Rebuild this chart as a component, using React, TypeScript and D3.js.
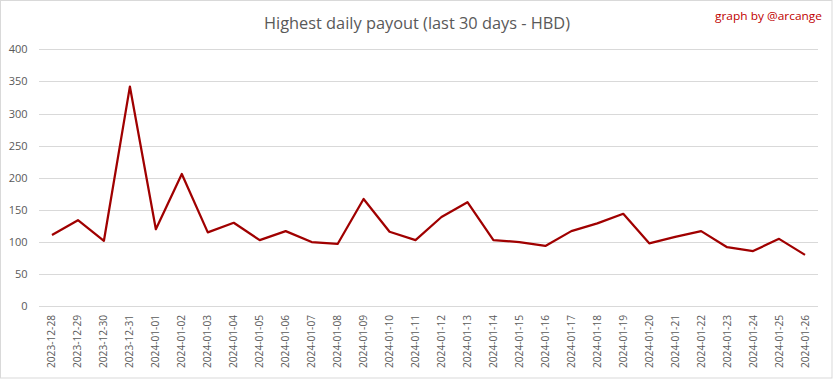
import React from "react";
import * as d3 from "d3";

const dates = [
  "2023-12-28","2023-12-29","2023-12-30","2023-12-31","2024-01-01","2024-01-02","2024-01-03",
  "2024-01-04","2024-01-05","2024-01-06","2024-01-07","2024-01-08","2024-01-09","2024-01-10",
  "2024-01-11","2024-01-12","2024-01-13","2024-01-14","2024-01-15","2024-01-16","2024-01-17",
  "2024-01-18","2024-01-19","2024-01-20","2024-01-21","2024-01-22","2024-01-23","2024-01-24",
  "2024-01-25","2024-01-26",
];
const payouts = [
  111, 134, 102, 342, 120, 206, 115, 130, 103, 117, 100, 97, 167, 116, 103,
  139, 162, 103, 100, 94, 117, 129, 144, 98, 108, 117, 92, 86, 105, 80,
];
const yTicks = [0, 50, 100, 150, 200, 250, 300, 350, 400];
const title = "Highest daily payout (last 30 days - HBD)";
const credit = "graph by @arcange";

const W = 833, H = 379;
const M = { left: 39, right: 15, top: 49.3, bottom: 72.7 };

export default function App() {
  const x = d3.scaleBand<string>().domain(dates).range([M.left, W - M.right]);
  const y = d3.scaleLinear().domain([0, 400]).range([H - M.bottom, M.top]);
  const line = d3.line<number>()
    .x((_, i) => (x(dates[i]) as number) + x.bandwidth() / 2)
    .y((d) => y(d));
  const font = "'Open Sans', 'Liberation Sans', sans-serif";
  return (
    <svg width={W} height={H} style={{ position: "absolute", left: 0, top: 0, background: "#fff" }}>
      <rect x={0.5} y={0.5} width={W - 1.5} height={H - 1.5} fill="#fff" stroke="#d9d9d9" />
      <text x={417} y={29} textAnchor="middle" fontFamily={font} fontSize={16} fill="#595959"
        textLength={306} lengthAdjust="spacingAndGlyphs">{title}</text>
      <text x={822} y={20} textAnchor="end" fontFamily={font} fontSize={11} fill="#c00000"
        textLength={107} lengthAdjust="spacingAndGlyphs">{credit}</text>
      {yTicks.map((t) => (
        <g key={t}>
          <line x1={M.left} x2={W - M.right} y1={Math.round(y(t)) + 0.5} y2={Math.round(y(t)) + 0.5} stroke="#d9d9d9" />
          <text x={27.5} y={y(t) + 4} textAnchor="end" fontFamily={font} fontSize={11} fill="#595959">{t}</text>
        </g>
      ))}
      {dates.map((d) => {
        const cx = (x(d) as number) + x.bandwidth() / 2;
        return (
          <text key={d} transform={`translate(${cx + 3.5},${315}) rotate(-90)`} textAnchor="end"
            fontFamily={font} fontSize={10} fill="#595959" textLength={53} lengthAdjust="spacingAndGlyphs">{d}</text>
        );
      })}
      <path d={line(payouts) || ""} fill="none" stroke="#a00000" strokeWidth={2.25} strokeLinejoin="round" />
    </svg>
  );
}
